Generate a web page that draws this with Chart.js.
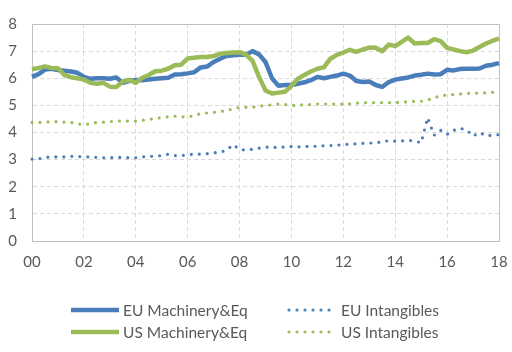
<!DOCTYPE html>
<html><head><meta charset="utf-8">
<script src="https://cdn.jsdelivr.net/npm/chart.js@4.4.1/dist/chart.umd.min.js"></script>
<style>html,body{margin:0;padding:0;background:#fff}#wrap{width:512px;height:352px;position:relative}</style>
</head><body><div id="wrap"><canvas id="c"></canvas></div>
<script>
const tickLabels = ['00','02','04','06','08','10','12','14','16','18'];
const seriesNames = ['EU Machinery&Eq','EU Intangibles','US Machinery&Eq','US Intangibles'];
const yTicks = [0,1,2,3,4,5,6,7,8];

const euMachinery = [
 6.05,6.15,6.32,6.35, 6.30,6.28,6.25,6.20, 6.05,5.98,6.00,6.00, 5.98,6.03,5.83,5.90,
 5.94,5.93,5.95,5.98, 6.00,6.02,6.14,6.15, 6.18,6.22,6.40,6.43, 6.60,6.72,6.82,6.85,
 6.87,6.87,7.00,6.88, 6.60,6.00,5.72,5.75, 5.75,5.80,5.85,5.93, 6.05,6.00,6.05,6.10,
 6.17,6.10,5.90,5.86, 5.88,5.75,5.68,5.86, 5.95,5.99,6.03,6.10, 6.13,6.17,6.14,6.15,
 6.31,6.29,6.34,6.35, 6.35,6.36,6.46,6.50, 6.56];
const euIntangibles = [
 3.02,3.03,3.08,3.10, 3.10,3.10,3.12,3.12, 3.10,3.10,3.08,3.07, 3.07,3.08,3.08,3.07,
 3.07,3.10,3.12,3.13, 3.15,3.20,3.15,3.15, 3.18,3.20,3.20,3.22, 3.25,3.27,3.35,3.55,
 3.38,3.35,3.38,3.42, 3.46,3.46,3.44,3.47, 3.48,3.47,3.48,3.50, 3.49,3.51,3.52,3.53,
 3.56,3.57,3.58,3.60, 3.61,3.62,3.66,3.70, 3.68,3.69,3.71,3.69, 3.62,4.55,3.90,4.08,
 3.93,4.08,4.15,4.10, 3.87,4.00,3.88,3.90, 3.92];
const usMachinery = [
 6.33,6.38,6.44,6.38, 6.37,6.12,6.04,6.00, 5.95,5.83,5.80,5.83, 5.69,5.68,5.88,5.94,
 5.83,6.02,6.12,6.26, 6.28,6.35,6.48,6.50, 6.73,6.76,6.78,6.78, 6.82,6.90,6.93,6.95,
 6.96,6.87,6.64,6.05, 5.55,5.44,5.47,5.50, 5.72,5.98,6.12,6.25, 6.35,6.40,6.72,6.86,
 6.95,7.05,6.97,7.06, 7.13,7.12,7.00,7.24, 7.19,7.34,7.50,7.28, 7.30,7.30,7.44,7.37,
 7.12,7.06,7.00,6.96, 7.02,7.15,7.28,7.38, 7.47];
const usIntangibles = [
 4.37,4.37,4.38,4.40, 4.40,4.38,4.37,4.32, 4.28,4.33,4.37,4.38, 4.40,4.42,4.43,4.42,
 4.42,4.45,4.48,4.52, 4.55,4.58,4.60,4.58, 4.57,4.62,4.70,4.72, 4.74,4.78,4.80,4.88,
 4.92,4.93,4.93,4.97, 5.00,5.02,5.05,5.03, 5.00,5.00,5.03,5.03, 5.05,5.05,5.05,5.05,
 5.05,5.06,5.08,5.10, 5.10,5.10,5.10,5.10, 5.10,5.12,5.13,5.15, 5.15,5.20,5.28,5.35,
 5.38,5.40,5.42,5.44, 5.45,5.45,5.46,5.48, 5.50];

// quarterly categories 2000Q1 .. 2018Q1
const categories = [];
for (let y = 0; y <= 18; y++) for (let q = 1; q <= 4; q++) {
  if (categories.length < euMachinery.length) categories.push((2000 + y) + 'Q' + q);
}

const BLUE = '#4A7EBB', GREEN = '#9BBB59', TXT = '#595959';
const FONT = 'Lato, "Open Sans", sans-serif';

const solid = (label, data, color, order) => ({label, data, borderColor: color, backgroundColor: color,
  borderWidth: 4.5, pointRadius: 0, tension: 0, fill: false, order, borderJoinStyle: 'round', borderCapStyle: 'butt'});
const dotted = (label, data, color, order) => ({label, data, borderColor: color, backgroundColor: color,
  borderWidth: 3.2, pointRadius: 0, tension: 0, fill: false, order, borderDash: [0, 8], borderCapStyle: 'round'});

const frame = {
  id: 'frame',
  beforeDatasetsDraw(chart) {
    const a = chart.chartArea, ctx = chart.ctx;
    ctx.save(); ctx.strokeStyle = '#BFBFBF'; ctx.lineWidth = 1;
    ctx.strokeRect(Math.round(a.left) + 0.5, Math.round(a.top) + 0.5, Math.round(a.right - a.left), Math.round(a.bottom - a.top));
    ctx.restore();
  }
};

const legendPlugin = {
  id: 'customLegend',
  afterDraw(chart) {
    const ctx = chart.ctx;
    const ds = chart.data.datasets;
    const cols = [{lx: 71, lw: 48, tx: 123}, {lx: 289, lw: 44, tx: 341}];
    const rows = [310, 332];
    const order = [[0, 1], [2, 3]];
    ctx.save();
    ctx.font = '15.5px ' + FONT; ctx.fillStyle = TXT; ctx.textBaseline = 'middle'; ctx.textAlign = 'left';
    order.forEach((r, ri) => r.forEach((di, ci) => {
      const d = ds[di], c = cols[ci], y = rows[ri];
      ctx.save();
      ctx.strokeStyle = d.borderColor; ctx.lineWidth = d.borderWidth;
      ctx.setLineDash(d.borderDash || []); ctx.lineCap = d.borderDash ? 'round' : 'butt';
      ctx.beginPath(); ctx.moveTo(c.lx, y); ctx.lineTo(c.lx + c.lw, y); ctx.stroke();
      ctx.restore();
      ctx.fillText(d.label, c.tx, y + 1);
    }));
    ctx.restore();
  }
};

new Chart(document.getElementById('c'), {
  type: 'line',
  data: {
    labels: categories,
    datasets: [
      solid(seriesNames[0], euMachinery, BLUE, 2),
      dotted(seriesNames[1], euIntangibles, BLUE, 3),
      solid(seriesNames[2], usMachinery, GREEN, 0),
      dotted(seriesNames[3], usIntangibles, GREEN, 1)
    ]
  },
  options: {
    responsive: true, maintainAspectRatio: false, animation: false,
    layout: {padding: {left: 0, right: 13, top: 15, bottom: 81}},
    plugins: {legend: {display: false}, tooltip: {enabled: false}},
    scales: {
      x: {
        type: 'category', offset: false,
        grid: {color: '#D9D9D9', drawTicks: false, lineWidth: 1},
        border: {display: true, color: '#BFBFBF', dash: [4, 3]},
        afterFit: s => { s.height = 30; },
        ticks: {autoSkip: false, maxRotation: 0, padding: 3, color: TXT,
          font: {family: FONT, size: 15, lineHeight: 2.4},
          callback: (v, i) => (i % 8 === 0 ? tickLabels[i / 8] : null)}
      },
      y: {
        min: 0, max: 8,
        grid: {color: '#D9D9D9', drawTicks: false, lineWidth: 1},
        border: {display: true, color: '#BFBFBF', dash: [4, 3]},
        afterFit: s => { s.width = 32; },
        afterBuildTicks: s => { s.ticks = yTicks.map(v => ({value: v})); },
        ticks: {padding: 15, color: TXT, font: {family: FONT, size: 15}}
      }
    }
  },
  plugins: [frame, legendPlugin]
});
</script></body></html>
